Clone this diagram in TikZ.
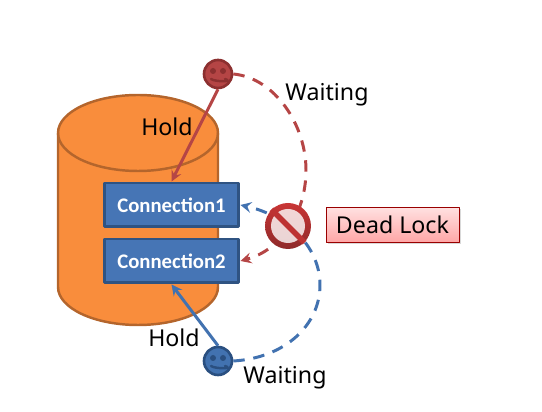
\documentclass[tikz,border=0pt]{standalone}
\usepackage{fontspec}
\setmainfont{Noto Sans}
\newfontfamily\connfont{Carlito}
\usetikzlibrary{shadows}
\definecolor{cylfill}{HTML}{F98D3C}
\definecolor{cyledge}{HTML}{B4652C}
\definecolor{connfill}{HTML}{4675B5}
\definecolor{connedge}{HTML}{2F5382}
\definecolor{redface}{HTML}{B54545}
\definecolor{rededge}{HTML}{8C3030}
\definecolor{blueface}{HTML}{4272B0}
\definecolor{blueedge}{HTML}{2A4F80}
\definecolor{signtop}{HTML}{C93535}
\definecolor{signbot}{HTML}{8E2A2A}
\tikzset{
	lbl/.style={font=\fontsize{13.2}{15}\selectfont},
	conn/.style={draw=connedge,fill=connfill,line width=1.7pt,minimum width=2.7cm,minimum height=.88cm,inner sep=0pt,text=white,font=\connfont\bfseries\fontsize{11.8}{14}\selectfont},
	face/.style={circle,line width=1.5pt,minimum size=.56cm,inner sep=0pt},
	holdline/.style={line width=1.7pt,->},
	waitline/.style={line width=1.7pt,dash pattern=on 6.5pt off 5pt,->}
}
\begin{document}
\begin{tikzpicture}[x=.02cm,y=.02cm,>=stealth,line join=round,declare function={xL=58; xR=218; yT=279; yB=125; ry=38;}]
	\useasboundingbox (0,0) rectangle (542,412);
	% cylinder
	\draw[cyledge,fill=cylfill,line width=1.4pt] (xL,yT) -- (xL,yB) arc[start angle=180,end angle=360,x radius=80,y radius=ry] -- (xR,yT) arc[start angle=0,end angle=180,x radius=80,y radius=ry];
	\draw[cyledge,line width=1.4pt] (xL,yT) arc[start angle=180,end angle=360,x radius=80,y radius=ry];
	% connections
	\node[conn] (conn1) at (171.5,207) {Connection1};
	\node[conn] (conn2) at (171.5,151) {Connection2};
	% users
	\node[face,draw=rededge,fill=redface] (redusr) at (218,338) {};
	\node[face,draw=blueedge,fill=blueface] (blueusr) at (218,51) {};
	\foreach \nm/\col in {redusr/rededge,blueusr/blueedge}{
		\fill[\col] (\nm.center) ++(-5,3) circle (3) ++(10,0) circle (3);
		\draw[\col,line width=1.4pt,line cap=round] (\nm.center) ++(-7,-5) .. controls +(4,-3) and +(10,-3) .. +(14,0);
	}
	% hold
	\draw[holdline,redface] (redusr.south) -- (conn1.north);
	\draw[holdline,blueface] (blueusr.north) -- (conn2.south);
	% waiting
	\draw[waitline,redface] (redusr.east) .. controls (275,334) and (306,287) .. (306,242) .. controls (306,197) and (280,162) .. (conn2.east);
	\draw[waitline,blueface] (blueusr.east) .. controls (285,54) and (320,87) .. (320,127) .. controls (320,167) and (285,197) .. (conn1.east);
	% no entry sign
	\node[circle,top color=signtop,bottom color=signbot,minimum size=.92cm,inner sep=0pt] (nosign) at (288,186) {};
	\fill[white,opacity=.8] (nosign.center) circle (17);
	\draw[signtop!80!signbot,line width=3.2pt] (nosign.135) -- (nosign.315);
	% labels
	\node[lbl] (hold1) at (167,285) {Hold};
	\node[lbl] (wait1) at (327,317) {Waiting};
	\node[lbl] (hold2) at (174,74) {Hold};
	\node[lbl] (wait2) at (285,34) {Waiting};
	\node[lbl,draw=red!60!black,top color=red!12,bottom color=red!35,drop shadow={opacity=.3,shadow xshift=1pt,shadow yshift=-1pt},minimum width=2.66cm,minimum height=.7cm,inner sep=0pt] (dead) at (392.5,187) {Dead Lock};
\end{tikzpicture}
\end{document}
